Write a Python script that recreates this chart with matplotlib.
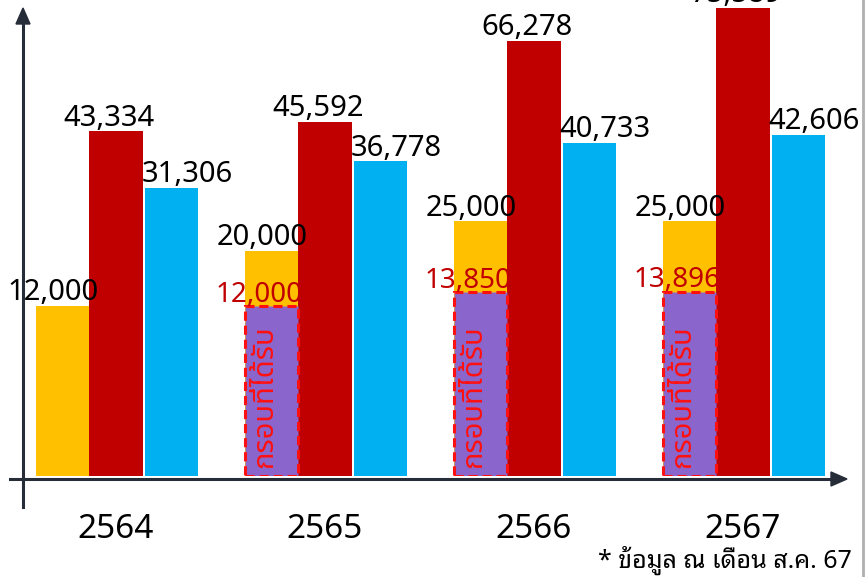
import matplotlib
matplotlib.use('Agg')
import numpy as np
import matplotlib.pyplot as plt
from matplotlib.lines import Line2D

plt.rcParams['font.family'] = ['Noto Sans Thai', 'Anuphan', 'DejaVu Sans']
THAI_LOOPED = ['Noto Sans Thai Looped', 'Sarabun', 'Noto Sans Thai', 'DejaVu Sans']

# data
years = ['2564', '2565', '2566', '2567']
orange_vals = [12000, 20000, 25000, 25000]
red_vals = [43334, 45592, 66278, 75589]
blue_vals = [31306, 36778, 40733, 42606]
# กรอบที่ได้รับ (no box for 2564)
box_vals = [None, 12000, 13850, 13896]
box_text = 'กรอบที่ได้รับ'
note = '* ข้อมูล ณ เดือน ส.ค. 67'

ORANGE = '#FFC000'
RED = '#C00000'
BLUE = '#00B0F0'
PURPLE = '#8A66CC'
AXIS = '#262C38'

W, H = 866, 577
fig = plt.figure(figsize=(W / 100, H / 100), dpi=100)
# axes: baseline at y=476px, top at y=8px
ax = fig.add_axes([0, (H - 476) / H, 1, (476 - 8) / H])

# bars in the original are not to a linear scale, a power scale fits best
p = 0.55
ax.set_yscale('function', functions=(lambda v: np.sign(v) * np.abs(v) ** p,
                                     lambda v: np.sign(v) * np.abs(v) ** (1 / p)))

x = np.arange(len(years))
w = 0.254
ax.bar(x - w, orange_vals, w, color=ORANGE, zorder=2)
ax.bar(x, red_vals, w, color=RED, zorder=2)
ax.bar(x + w + 0.01, blue_vals, w, color=BLUE, zorder=2)

for i, b in enumerate(box_vals):
    if b is None:
        continue
    ax.bar(x[i] - w, b, w, color=PURPLE, edgecolor='#FF1010', linewidth=2.2,
           linestyle=(0, (3, 1.6)), zorder=3)
    ax.text(x[i] - w - 0.035, 0.17, box_text, rotation=90, color='#FF1010',
            fontsize=21, ha='center', va='center', zorder=4,
            transform=ax.get_xaxis_transform())
    ax.annotate(f'{b:,}', (x[i] - w, b), xytext=(-9, 3), textcoords='offset points',
                ha='center', va='baseline', color=RED, fontsize=20, zorder=5)

for vals, dx, off in [(orange_vals, -w, -7), (red_vals, 0, -5), (blue_vals, w, 13)]:
    for xi, v in zip(x, vals):
        ax.annotate(f'{v:,}', (xi + dx, v), xytext=(off, 4), textcoords='offset points',
                    ha='center', va='baseline', color='black', fontsize=21,
                    annotation_clip=False, zorder=5)

ax.set_xlim(-116 / 209, (W - 116) / 209)
ax.set_ylim(0, 75589)
ax.axis('off')

# year labels under each group
for xi, yr in zip(x, years):
    ax.text(xi, -0.115, yr, ha='center', va='center', fontsize=24,
            transform=ax.get_xaxis_transform())

# axis arrows (figure pixel coords)
fig.add_artist(Line2D([23 / W, 23 / W], [(H - 507) / H, (H - 22) / H],
                      color=AXIS, lw=2.2, transform=fig.transFigure))
fig.add_artist(Line2D([10 / W, 832 / W], [(H - 479) / H, (H - 479) / H],
                      color=AXIS, lw=2.2, transform=fig.transFigure))
fig.patches.append(plt.Polygon([[16 / W, (H - 24) / H], [30 / W, (H - 24) / H], [23 / W, (H - 8) / H]],
                               closed=True, color=AXIS, transform=fig.transFigure))
fig.patches.append(plt.Polygon([[831 / W, (H - 472) / H], [831 / W, (H - 486) / H], [847 / W, (H - 479) / H]],
                               closed=True, color=AXIS, transform=fig.transFigure))
# slide border at right
fig.add_artist(Line2D([863 / W, 863 / W], [0, 1], color='#B0B0B0', lw=2, transform=fig.transFigure))

fig.text(852 / W, (H - 560) / H, note, ha='right', va='center', fontsize=18, family=THAI_LOOPED)

fig.savefig('out.png', dpi=100)
